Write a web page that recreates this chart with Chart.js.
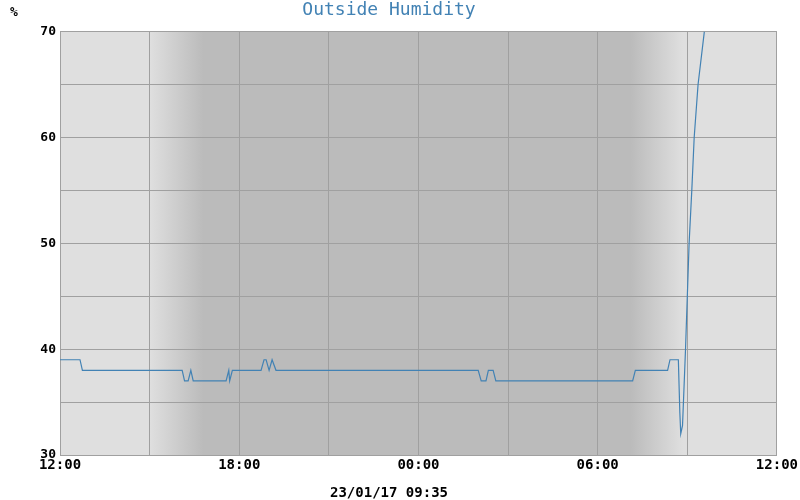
<!DOCTYPE html>
<html lang="en">
  <head>
    <meta charset="UTF-8" />
    <title>Outside Humidity</title>
    <script src="https://cdn.jsdelivr.net/npm/chart.js@4"></script>
    <style>
      body { margin: 0; background: #fff; }
      #wrap { width: 800px; height: 500px; }
    </style>
  </head>
  <body>
    <div id="wrap"><canvas id="myChart"></canvas></div>

    <script>
      // hours since 12:00 on the previous day
      var hours = [0, 0.67, 0.75, 4.09, 4.17, 4.29, 4.38, 4.46, 5.56, 5.65, 5.68, 5.77,
        6.73, 6.83, 6.9, 7.0, 7.1, 7.13, 7.23, 14.0, 14.1, 14.26, 14.34, 14.5, 14.59,
        19.17, 19.26, 20.34, 20.42, 20.7, 20.75, 20.78, 20.84, 20.94, 21.06, 21.15,
        21.23, 21.36, 21.57];
      var humidity = [39, 39, 38, 38, 37, 37, 38, 37, 37, 38, 37, 38,
        38, 39, 39, 38, 39, 39, 38, 38, 37, 37, 38, 38, 37,
        37, 38, 38, 39, 39, 34, 32, 32.8, 40, 50, 55,
        60, 65, 70];
      var timeLabels = ["12:00", "18:00", "00:00", "06:00", "12:00"];
      var yLabels = [30, 40, 50, 60, 70];

      // daylight: light -> dark in the evening, dark -> light in the morning (hours)
      var duskStart = 3.0, duskEnd = 4.8;
      var dawnStart = 19.1, dawnEnd = 20.85;

      var dayColor = "#dfdfdf";
      var nightColor = "#bbbbbb";
      var lineColor = "#4282b4";
      var gridColor = "#a0a0a0";
      var monoFont = "'DejaVu Sans Mono', monospace";

      var points = hours.map(function (h, i) {
        return { x: h, y: humidity[i] };
      });

      const dayNight = {
        id: "dayNight",
        beforeDraw(chart) {
          const { ctx, chartArea } = chart;
          const xs = chart.scales.x;
          const w = chartArea.right - chartArea.left;
          const g = ctx.createLinearGradient(chartArea.left, 0, chartArea.right, 0);
          function stop(h, c) {
            g.addColorStop((xs.getPixelForValue(h) - chartArea.left) / w, c);
          }
          stop(0, dayColor);
          stop(duskStart, dayColor);
          stop(duskEnd, nightColor);
          stop(dawnStart, nightColor);
          stop(dawnEnd, dayColor);
          stop(24, dayColor);
          ctx.save();
          ctx.fillStyle = g;
          ctx.fillRect(chartArea.left, chartArea.top, w, chartArea.bottom - chartArea.top);
          ctx.restore();
        },
        afterDraw(chart) {
          const ctx = chart.ctx;
          ctx.save();
          ctx.font = "bold 13px " + monoFont;
          ctx.fillStyle = "#000";
          ctx.textBaseline = "middle";
          ctx.fillText("%", 10, 13);
          ctx.restore();
        },
      };

      const config = {
        type: "line",
        data: {
          datasets: [
            {
              label: "Outside Humidity",
              data: points,
              borderColor: lineColor,
              borderWidth: 1.2,
              pointRadius: 0,
              tension: 0,
              fill: false,
            },
          ],
        },
        options: {
          responsive: true,
          maintainAspectRatio: false,
          animation: false,
          layout: { padding: { left: 0, right: 22, top: 0, bottom: 0 } },
          plugins: {
            legend: { display: false },
            tooltip: { enabled: false },
            title: {
              display: true,
              text: "Outside Humidity",
              color: lineColor,
              font: { family: monoFont, size: 18, weight: "normal" },
              padding: { top: 0, bottom: 10 },
            },
            subtitle: {
              display: true,
              position: "bottom",
              text: "23/01/17 09:35",
              color: "#000",
              font: { family: monoFont, size: 14, weight: "bold", lineHeight: 1 },
              padding: { top: 0, bottom: 0 },
            },
          },
          scales: {
            x: {
              type: "linear",
              min: 0,
              max: 24,
              grid: { color: gridColor, lineWidth: 1, drawTicks: false },
              border: { color: gridColor },
              afterFit(scale) { scale.height = 31; },
              ticks: {
                stepSize: 3,
                padding: 2,
                autoSkip: false,
                maxRotation: 0,
                color: "#000",
                font: { family: monoFont, size: 14, weight: "bold" },
                callback: function (v) {
                  return v % 6 === 0 ? timeLabels[v / 6] : "";
                },
              },
            },
            y: {
              min: 30,
              max: 70,
              grid: { color: gridColor, lineWidth: 1, drawTicks: false },
              border: { color: gridColor },
              afterFit(scale) { scale.width = 60; },
              ticks: {
                stepSize: 5,
                padding: 4,
                color: "#000",
                font: { family: monoFont, size: 13, weight: "bold" },
                callback: function (v) {
                  return yLabels.indexOf(v) >= 0 ? String(v) : "";
                },
              },
            },
          },
        },
        plugins: [dayNight],
      };

      var myChart = new Chart(document.getElementById("myChart"), config);
    </script>
  </body>
</html>
